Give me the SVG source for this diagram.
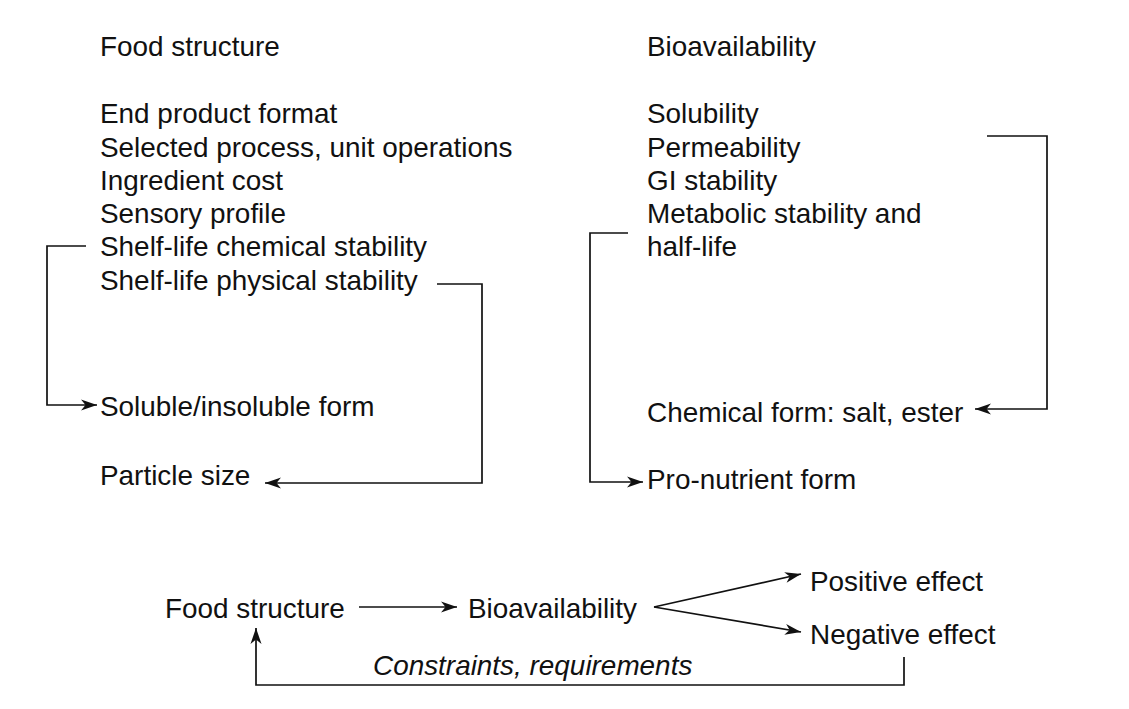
<svg xmlns="http://www.w3.org/2000/svg" width="1129" height="709" viewBox="0 0 1129 709">
<defs>
<style>
text{font-family:"Liberation Sans",Arial,Helvetica,sans-serif;font-size:27.9px;fill:#111}
.it{font-style:italic}
.ln{fill:none;stroke:#111;stroke-width:1.7}
</style>
<marker id="ah" markerWidth="18" markerHeight="14" refX="16" refY="7" orient="auto" markerUnits="userSpaceOnUse"><path d="M0,1.5 L16,7 L0,12.5 L4.5,7 Z" fill="#111"/></marker>
</defs>
<rect width="1129" height="709" fill="#fff"/>
<g id="food-structure-list">
<text x="100" y="56">Food structure</text>
<text x="100" y="123">End product format</text>
<text x="100" y="156.5">Selected process, unit operations</text>
<text x="100" y="190">Ingredient cost</text>
<text x="100" y="223">Sensory profile</text>
<text x="100" y="256">Shelf-life chemical stability</text>
<text x="100" y="290">Shelf-life physical stability</text>
</g>
<g id="soluble-form"><text x="100" y="416">Soluble/insoluble form</text></g>
<g id="particle-size"><text x="100" y="485">Particle size</text></g>
<g id="bioavailability-list">
<text x="647" y="56">Bioavailability</text>
<text x="647" y="123">Solubility</text>
<text x="647" y="156.5">Permeability</text>
<text x="647" y="190">GI stability</text>
<text x="647" y="223">Metabolic stability and</text>
<text x="647" y="256">half-life</text>
</g>
<g id="chemical-form"><text x="647" y="422">Chemical form: salt, ester</text></g>
<g id="pro-nutrient"><text x="647" y="489">Pro-nutrient form</text></g>
<g id="b-food"><text x="165" y="618">Food structure</text></g>
<g id="b-bio"><text x="468" y="618">Bioavailability</text></g>
<g id="b-pos"><text x="810" y="591">Positive effect</text></g>
<g id="b-neg"><text x="810" y="644">Negative effect</text></g>
<g id="b-label"><text class="it" x="373" y="675">Constraints, requirements</text></g>
<g id="connectors">
<path class="ln" d="M86,246 H47 V405 H97" marker-end="url(#ah)"/>
<path class="ln" d="M437,284 H482 V483 H265" marker-end="url(#ah)"/>
<path class="ln" d="M987,136 H1047 V409 H975" marker-end="url(#ah)"/>
<path class="ln" d="M628,233 H590 V482 H643" marker-end="url(#ah)"/>
<path class="ln" d="M359,607 H457" marker-end="url(#ah)"/>
<path class="ln" d="M654,607 L801,574" marker-end="url(#ah)"/>
<path class="ln" d="M654,607 L801,632" marker-end="url(#ah)"/>
<path class="ln" d="M904,657 V685 H256 V628" marker-end="url(#ah)"/>
</g>
</svg>
